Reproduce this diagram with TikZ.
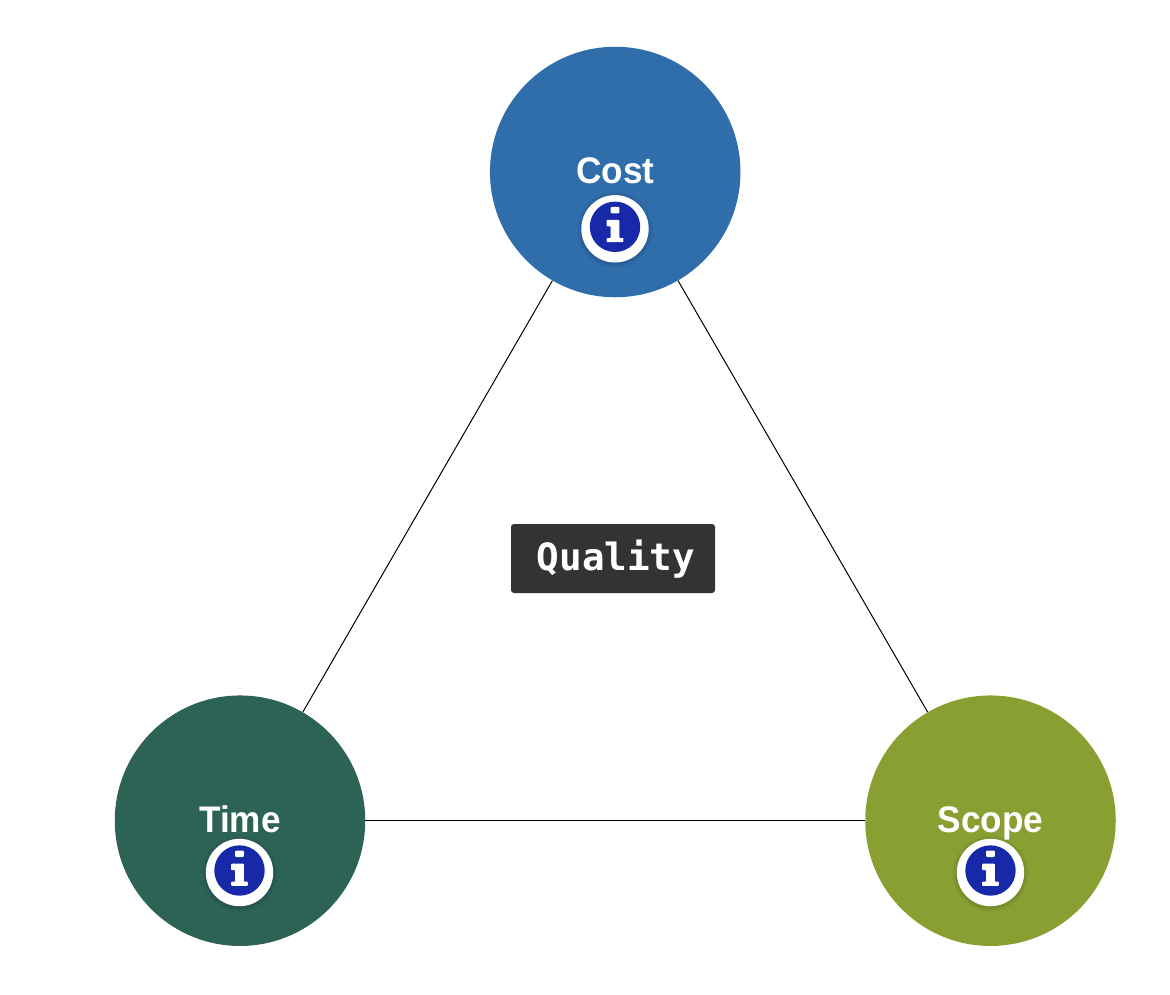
\documentclass[tikz,border=0pt]{standalone}
\usepackage{fontspec}
\setmainfont{Liberation Sans}
\newfontfamily\lblfont[FakeStretch=0.95]{Liberation Sans}
\newfontfamily\qmono{DejaVu Sans Mono}
\definecolor{costblue}{HTML}{2F6DAB}
\definecolor{timegreen}{HTML}{2D6355}
\definecolor{scopeolive}{HTML}{8A9F32}
\definecolor{iconblue}{HTML}{1729A8}
\definecolor{qualitygrey}{HTML}{333333}
\tikzset{
  corner/.style={circle,inner sep=0pt,minimum size=250.5pt},
  cornertext/.style={text=white,font=\lblfont\fontsize{37}{37}\selectfont\bfseries,inner sep=0pt,anchor=base},
  edge/.style={draw=black,line width=1pt},
  qualitybox/.style={fill=qualitygrey,rounded corners=3pt,minimum width=204pt,minimum height=69pt,inner sep=0pt},
  qualitytext/.style={text=white,inner sep=0pt,font=\qmono\fontsize{37.6}{38}\selectfont\bfseries},
  pics/infoicon/.style={code={
    \foreach \s/\o in {38/.03,36.5/.04,35/.05}{\fill[black,opacity=\o] (0,1) circle[radius=\s];}
    \fill[white] (0,0) circle[radius=33.7];
    \fill[iconblue] (0,-2) circle[radius=25.2];
    \fill[white,rounded corners=1pt] (-4.3,-22) rectangle (4.3,-15.4);
    \fill[white,rounded corners=.8pt] (-8.3,-9) -- (4.3,-9) -- (4.3,9.2) -- (8.3,9.2) -- (8.3,13.4) -- (-8.3,13.4) -- (-8.3,9.2) -- (-4.3,9.2) -- (-4.3,-2.4) -- (-8.3,-2.4) -- cycle;
  }}
}
\begin{document}
\begin{tikzpicture}[x=1pt,y=-1pt]
\useasboundingbox (0,0) rectangle (1170,994);
\node[corner,fill=costblue] (cost) at (615.2,172) {};
\node[corner,fill=timegreen] (time) at (240,820.7) {};
\node[corner,fill=scopeolive] (scope) at (990.5,820.7) {};
\draw[edge] (cost) -- (time);
\draw[edge] (cost) -- (scope);
\draw[edge] (time) -- (scope);
\node[cornertext] (costlabel) at (615.5,183.5) {Cost};
\node[cornertext] (timelabel) at (240,832.5) {Time};
\node[cornertext] (scopelabel) at (990.5,832.5) {Scope};
\pic at (615,228.8) {infoicon};
\pic at (239.5,872.5) {infoicon};
\pic at (990.5,872.5) {infoicon};
\node[qualitybox] (quality) at (613,558.5) {};
\node[qualitytext] (qualitylabel) at (616,559.5) {Quality};
\end{tikzpicture}
\end{document}
